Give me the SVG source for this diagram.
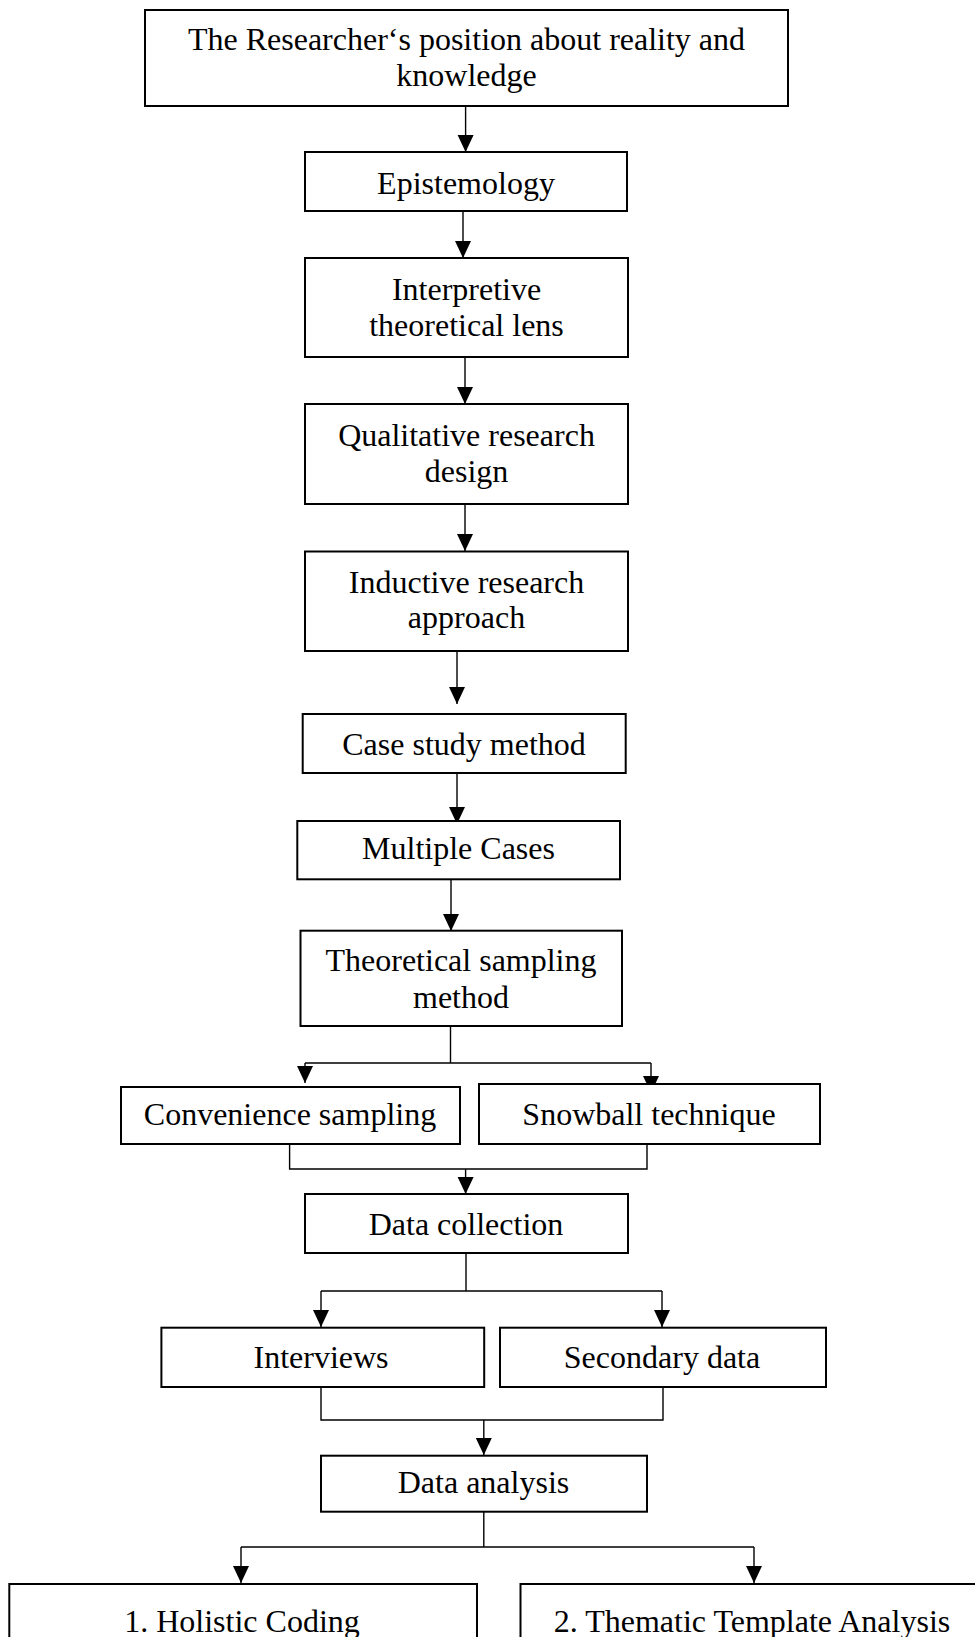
<svg xmlns="http://www.w3.org/2000/svg" width="975" height="1637" viewBox="0 0 975 1637">
  <style>
    .box { fill: #ffffff; stroke: #000000; stroke-width: 2; }
    .lbl { font-family: "Liberation Serif", "Times New Roman", serif; font-size: 32px; fill: #000000; text-anchor: middle; }
    .wire { fill: none; stroke: #000000; stroke-width: 1.4; }
  </style>
  <defs>
    <marker id="arrow" markerUnits="userSpaceOnUse" markerWidth="18" markerHeight="17" refX="17" refY="8" orient="auto">
      <path d="M0,0 L17,8 L0,16 z" fill="#000000"/>
    </marker>
  </defs>
  <rect width="975" height="1637" fill="#ffffff"/>

  <g id="connectors">
    <path class="wire" d="M465.6,106 V152" marker-end="url(#arrow)"/>
    <path class="wire" d="M463,211 V258" marker-end="url(#arrow)"/>
    <path class="wire" d="M465,358 V404" marker-end="url(#arrow)"/>
    <path class="wire" d="M465,505 V551" marker-end="url(#arrow)"/>
    <path class="wire" d="M457,652 V704" marker-end="url(#arrow)"/>
    <path class="wire" d="M457,774 V824" marker-end="url(#arrow)"/>
    <path class="wire" d="M451,880 V931" marker-end="url(#arrow)"/>
    <!-- sampling split -->
    <path class="wire" d="M450.5,1027 V1063 M305,1063 H651"/>
    <path class="wire" d="M305,1063 V1083" marker-end="url(#arrow)"/>
    <path class="wire" d="M651,1063 V1093" marker-end="url(#arrow)"/>
    <!-- sampling merge -->
    <path class="wire" d="M289.6,1145 V1169 H647 V1145"/>
    <path class="wire" d="M465.6,1169 V1194" marker-end="url(#arrow)"/>
    <!-- collection split -->
    <path class="wire" d="M466,1254 V1291 M321,1291 H662"/>
    <path class="wire" d="M321,1291 V1327" marker-end="url(#arrow)"/>
    <path class="wire" d="M662,1291 V1327" marker-end="url(#arrow)"/>
    <!-- collection merge -->
    <path class="wire" d="M321,1388 V1420 H663 V1388"/>
    <path class="wire" d="M483.8,1420 V1455" marker-end="url(#arrow)"/>
    <!-- analysis split -->
    <path class="wire" d="M483.8,1512 V1547 M241,1547 H754"/>
    <path class="wire" d="M241,1547 V1583" marker-end="url(#arrow)"/>
    <path class="wire" d="M754,1547 V1583" marker-end="url(#arrow)"/>
  </g>

  <g id="position">
    <rect class="box" x="145" y="10" width="643" height="96"/>
    <text class="lbl" x="466.5" y="50">The Researcher‘s position about reality and</text>
    <text class="lbl" x="466.5" y="86">knowledge</text>
  </g>
  <g id="epistemology">
    <rect class="box" x="305" y="152" width="322" height="59"/>
    <text class="lbl" x="466" y="194">Epistemology</text>
  </g>
  <g id="interpretive">
    <rect class="box" x="305" y="258" width="323" height="99"/>
    <text class="lbl" x="466.5" y="300">Interpretive</text>
    <text class="lbl" x="466.5" y="336">theoretical lens</text>
  </g>
  <g id="qualitative">
    <rect class="box" x="305" y="404" width="323" height="100"/>
    <text class="lbl" x="466.5" y="446">Qualitative research</text>
    <text class="lbl" x="466.5" y="482">design</text>
  </g>
  <g id="inductive">
    <rect class="box" x="305" y="551.5" width="323" height="99.5"/>
    <text class="lbl" x="466.5" y="593">Inductive research</text>
    <text class="lbl" x="466.5" y="628">approach</text>
  </g>
  <g id="case-study">
    <rect class="box" x="302.7" y="714" width="323" height="59"/>
    <text class="lbl" x="464" y="755">Case study method</text>
  </g>
  <g id="multiple-cases">
    <rect class="box" x="297.3" y="821" width="322.7" height="58.3"/>
    <text class="lbl" x="458.5" y="859">Multiple Cases</text>
  </g>
  <g id="theoretical-sampling">
    <rect class="box" x="300.5" y="930.7" width="321.5" height="95.3"/>
    <text class="lbl" x="461" y="971">Theoretical sampling</text>
    <text class="lbl" x="461" y="1007.5">method</text>
  </g>
  <g id="convenience">
    <rect class="box" x="121" y="1087" width="339" height="57"/>
    <text class="lbl" x="290" y="1125">Convenience sampling</text>
  </g>
  <g id="snowball">
    <rect class="box" x="479" y="1084" width="341" height="60"/>
    <text class="lbl" x="649" y="1125">Snowball technique</text>
  </g>
  <g id="data-collection">
    <rect class="box" x="305" y="1194" width="323" height="59"/>
    <text class="lbl" x="466" y="1235">Data collection</text>
  </g>
  <g id="interviews">
    <rect class="box" x="161.4" y="1327.7" width="322.8" height="59.3"/>
    <text class="lbl" x="321" y="1368">Interviews</text>
  </g>
  <g id="secondary-data">
    <rect class="box" x="500" y="1327.7" width="326" height="59.3"/>
    <text class="lbl" x="662" y="1368">Secondary data</text>
  </g>
  <g id="data-analysis">
    <rect class="box" x="321" y="1455.7" width="326" height="56"/>
    <text class="lbl" x="483.5" y="1493">Data analysis</text>
  </g>
  <g id="holistic-coding">
    <rect class="box" x="9.3" y="1584" width="467.7" height="70"/>
    <text class="lbl" x="242" y="1632">1. Holistic Coding</text>
  </g>
  <g id="thematic-analysis">
    <rect class="box" x="520.5" y="1584" width="465" height="70"/>
    <text class="lbl" x="752" y="1632">2. Thematic Template Analysis</text>
  </g>
</svg>
